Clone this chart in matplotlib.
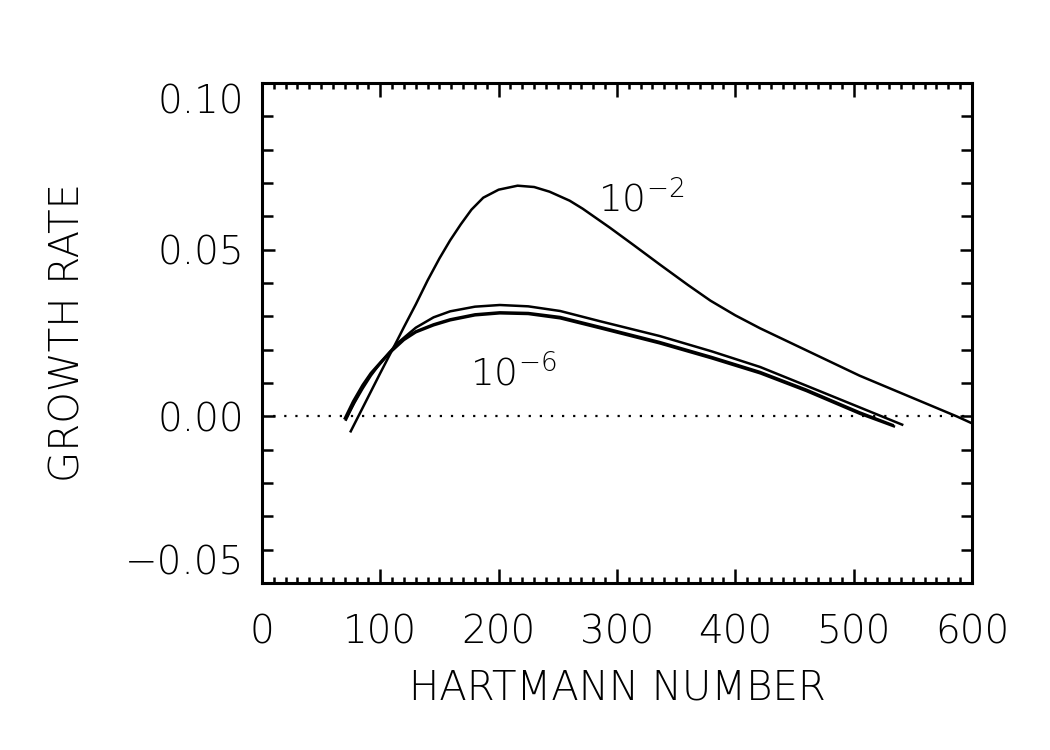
import matplotlib
matplotlib.use("Agg")
import matplotlib.pyplot as plt
from matplotlib import font_manager
from matplotlib.ticker import MultipleLocator

# pick a narrow sans if we have it, it is closer to the IDL vector font
names = {f.name for f in font_manager.fontManager.ttflist}
if "Liberation Sans Narrow" in names:
    fam = "Liberation Sans Narrow"
    tick_fs, lab_fs = 31, 36
else:
    fam = "DejaVu Sans"
    tick_fs, lab_fs = 28, 29

plt.rcParams["font.family"] = [fam, "DejaVu Sans"]
plt.rcParams["font.weight"] = "light"
plt.rcParams["axes.labelweight"] = "light"
plt.rcParams["mathtext.fontset"] = "custom"
plt.rcParams["mathtext.rm"] = fam + ":light"
plt.rcParams["mathtext.default"] = "regular"

# growth rate vs Hartmann number
ha_a = [75, 90, 100, 114, 120, 130, 140, 150, 159, 168, 177, 187, 200, 216,
        230, 243, 260, 271, 294, 314, 336, 360, 379, 400, 421, 463, 505, 548,
        587, 600]
gr_a = [-0.0045, 0.0060, 0.0130, 0.0226, 0.0268, 0.0336, 0.0408, 0.0474,
        0.0528, 0.0576, 0.0620, 0.0656, 0.0680, 0.0692, 0.0688, 0.0674,
        0.0647, 0.0623, 0.0566, 0.0514, 0.0456, 0.0394, 0.0347, 0.0303,
        0.0264, 0.0193, 0.0122, 0.0058, 0.0000, -0.0021]

ha_b = [72, 78, 85, 92, 100, 114, 130, 145, 159, 180, 201, 225, 252, 286,
        336, 380, 421, 460, 505, 541]
gr_b = [0.0000, 0.0040, 0.0083, 0.0122, 0.0160, 0.0218, 0.0266, 0.0297,
        0.0315, 0.0329, 0.0334, 0.0330, 0.0316, 0.0285, 0.0241, 0.0195,
        0.0148, 0.0092, 0.0027, -0.0025]

ha_c = [70, 77, 85, 92, 100, 108, 120, 130, 145, 159, 180, 201, 225, 252,
        286, 336, 380, 421, 460, 505, 533]
gr_c = [-0.0006, 0.0045, 0.0094, 0.0130, 0.0162, 0.0193, 0.0232, 0.0255,
        0.0276, 0.0291, 0.0306, 0.0312, 0.0310, 0.0298, 0.0268, 0.0223,
        0.0178, 0.0133, 0.0080, 0.0012, -0.0026]

ha_d = [71, 78, 85, 92, 100, 108, 120, 130, 145, 159, 180, 201, 225, 252,
        286, 336, 380, 421, 460, 505, 534]
gr_d = [-0.0010, 0.0042, 0.0089, 0.0126, 0.0158, 0.0190, 0.0229, 0.0252,
        0.0273, 0.0288, 0.0303, 0.0309, 0.0307, 0.0294, 0.0264, 0.0219,
        0.0174, 0.0129, 0.0076, 0.0008, -0.0030]

labels = ["$10^{-2}$", "$10^{-6}$"]
label_pos = [(284, 0.0614), (176, 0.0090)]

fig = plt.figure(figsize=(10.5, 7.5), dpi=100)
ax = fig.add_axes([0.2495, 0.2227, 0.6762, 0.6666])

for h, g in [(ha_a, gr_a), (ha_b, gr_b), (ha_c, gr_c), (ha_d, gr_d)]:
    ax.plot(h, g, color="black", lw=1.8, solid_joinstyle="round")

ax.axhline(0, color="black", lw=1.6, ls=(0, (1, 4)))

for txt, (x, y) in zip(labels, label_pos):
    ax.text(x, y, txt, fontsize=tick_fs - 1, ha="left", va="baseline")

ax.set_xlim(0, 600)
ax.set_ylim(-0.05, 0.10)
ax.set_xticks([0, 100, 200, 300, 400, 500, 600])
ax.set_yticks([-0.05, 0.0, 0.05, 0.10])
ax.set_yticklabels(["\u22120.05", "0.00", "0.05", "0.10"])
ax.xaxis.set_minor_locator(MultipleLocator(10))
ax.yaxis.set_minor_locator(MultipleLocator(0.01))

ax.tick_params(which="both", direction="in", top=True, right=True, width=1.8,
               labelsize=tick_fs)
ax.tick_params(axis="x", which="major", length=10, pad=22)
ax.tick_params(axis="x", which="minor", length=4.5)
ax.tick_params(axis="y", which="major", length=9, pad=13)
ax.tick_params(axis="y", which="minor", length=8)
for s in ax.spines.values():
    s.set_linewidth(2.2)

yt = ax.yaxis.get_major_ticks()
yt[0].label1.set_va("bottom")
yt[-1].label1.set_va("top")

ax.set_xlabel("HARTMANN NUMBER", fontsize=lab_fs, labelpad=12)
ax.set_ylabel("GROWTH RATE", fontsize=lab_fs, labelpad=27)

fig.savefig("out.png", dpi=100)
